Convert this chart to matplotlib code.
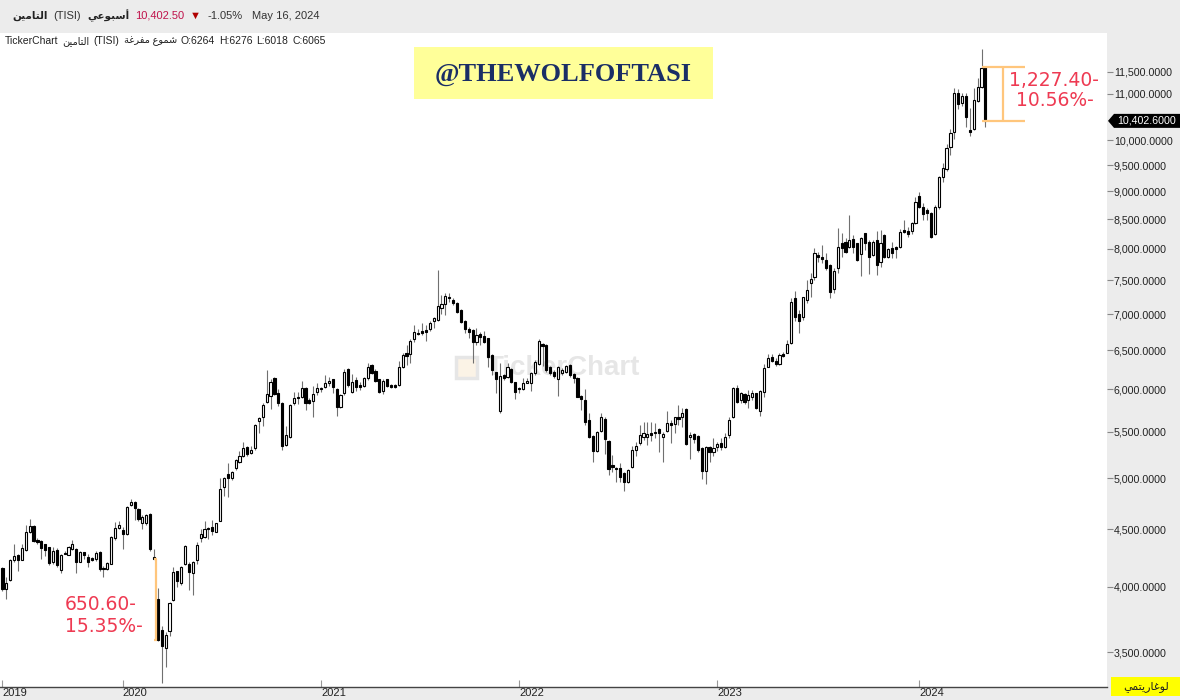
import numpy as np
import matplotlib
matplotlib.use('Agg')
import matplotlib.pyplot as plt
from matplotlib.patches import Rectangle, Polygon
from matplotlib.ticker import FixedLocator, FuncFormatter, NullLocator

plt.rcParams['font.family'] = ['Liberation Sans', 'DejaVu Sans']

# weekly candles, TISI insurance index
opens = [
    4156, 3984, 4060, 4226, 4269, 4226, 4313, 4478, 4534, 4408,
    4391, 4365, 4339, 4208, 4313, 4139, 4287, 4269, 4321, 4321,
    4208, 4295, 4252, 4243, 4234, 4295, 4156, 4147, 4190, 4426,
    4514, 4495, 4456, 4729, 4758, 4690, 4563, 4563, 4641, 4252,
    3900, 3661, 3531, 3654, 3892, 4130, 4034, 4190, 4190, 4112,
    4226, 4426, 4434, 4514, 4524, 4478, 4583, 4914, 5044, 5001,
    5109, 5173, 5227, 5324, 5259, 5313, 5625, 5672, 5849, 5920,
    6143, 5956, 5837, 5356, 5442, 5837, 5908, 5908, 6015, 5872,
    5860, 5967, 6015, 6028, 6079, 6131, 6003, 5790, 5956, 6259,
    5967, 6118, 6054, 6041, 6143, 6310, 6233, 6131, 5979, 6131,
    6054, 6054, 6054, 6284, 6463, 6450, 6655, 6738, 6765, 6779,
    6793, 6903, 6917, 7089, 7149, 7253, 7209, 7164, 7060, 6903,
    6793, 6779, 6613, 6724, 6696, 6669, 6438, 6220, 5732, 6182,
    6156, 6259, 6092, 6015, 6003, 6079, 6079, 6207, 6323, 6585,
    6572, 6284, 6220, 6131, 6207, 6220, 6310, 6195, 6143, 5920,
    5872, 5637, 5452, 5281, 5507, 5649, 5399, 5141, 5109, 5109,
    5055, 4962, 5119, 5292, 5378, 5442, 5442, 5485, 5496, 5531,
    5442, 5507, 5601, 5590, 5672, 5672, 5766, 5442, 5474, 5452,
    5313, 5076, 5324, 5270, 5324, 5378, 5324, 5463, 5672, 6015,
    5872, 5944, 5872, 5908, 5956, 5732, 5967, 6284, 6411, 6361,
    6323, 6450, 6463, 6599, 7238, 7000, 6958, 7209, 7461, 7554,
    7903, 7871, 7824, 7745, 7372, 7697, 8100, 8117, 8032, 8167,
    8100, 7919, 8269, 8117, 7903, 8150, 7792, 8235, 7871, 8015,
    8032, 8032, 8320, 8303, 8303, 8437, 8919, 8721, 8667, 8613,
    8252, 8721, 9274, 9425, 9862, 10174, 11014, 10796, 10948, 10217,
    10239, 10839, 11152, 11629.4,
]
highs = [
    4165, 4086, 4234, 4365, 4278, 4365, 4543, 4602, 4543, 4426,
    4408, 4365, 4339, 4339, 4330, 4278, 4304, 4348, 4400, 4330,
    4304, 4295, 4278, 4252, 4304, 4304, 4173, 4208, 4443, 4573,
    4583, 4524, 4719, 4787, 4767, 4700, 4631, 4641, 4651, 4321,
    3990, 3692, 3646, 3876, 4165, 4130, 4173, 4356, 4208, 4217,
    4382, 4504, 4583, 4524, 4592, 4563, 5000, 5012, 5162, 5076,
    5205, 5281, 5389, 5335, 5335, 5590, 5672, 5837, 6246, 6131,
    6156, 6003, 5849, 5566, 5826, 5967, 5967, 6105, 6028, 5896,
    6041, 6079, 6028, 6182, 6156, 6131, 6015, 5944, 6259, 6271,
    6195, 6156, 6092, 6156, 6335, 6323, 6259, 6131, 6131, 6131,
    6067, 6067, 6361, 6463, 6572, 6655, 6848, 6793, 6876, 6848,
    6903, 6958, 7665, 7283, 7313, 7313, 7238, 7179, 7074, 6917,
    6820, 6793, 6807, 6752, 6765, 6669, 6450, 6220, 6335, 6195,
    6335, 6271, 6092, 6028, 6143, 6143, 6220, 6374, 6655, 6599,
    6585, 6297, 6246, 6297, 6271, 6310, 6323, 6207, 6156, 5932,
    6003, 5720, 5463, 5507, 5720, 5672, 5410, 5238, 5119, 5162,
    5066, 5098, 5335, 5389, 5578, 5613, 5613, 5613, 5601, 5543,
    5496, 5732, 5637, 5672, 5814, 5778, 5778, 5496, 5485, 5463,
    5324, 5335, 5335, 5431, 5389, 5431, 5485, 5672, 6028, 6054,
    5967, 5956, 5990, 5990, 5956, 5990, 6323, 6450, 6450, 6400,
    6463, 6476, 6641, 7238, 7343, 7060, 7253, 7506, 7618, 8015,
    7951, 8066, 7935, 7760, 7697, 8353, 8269, 8184, 8577, 8235,
    8100, 8201, 8269, 8150, 8150, 8303, 8320, 8252, 8015, 8117,
    8049, 8337, 8490, 8371, 8454, 8901, 8991, 8793, 8703, 8631,
    8757, 9293, 9542, 9922, 10239, 11129, 11106, 11014, 11014, 10690,
    11129, 11360, 12050, 11650,
]
lows = [
    3968, 3900, 4051, 4208, 4130, 4226, 4304, 4466, 4382, 4365,
    4234, 4260, 4182, 4190, 4165, 4112, 4278, 4269, 4313, 4112,
    4208, 4234, 4165, 4217, 4217, 4130, 4086, 4139, 4190, 4408,
    4505, 4321, 4448, 4719, 4592, 4583, 4505, 4543, 4304, 4234,
    3577, 3287, 3393, 3615, 3884, 4000, 4017, 4182, 3976, 3934,
    4190, 4382, 4426, 4417, 4447, 4478, 4583, 4816, 4806, 4980,
    5087, 5162, 5216, 5227, 5249, 5292, 5484, 5566, 5837, 5766,
    5932, 5802, 5292, 5335, 5430, 5814, 5826, 5896, 5755, 5826,
    5672, 5932, 5967, 6015, 6041, 5956, 5684, 5778, 5932, 6028,
    5956, 5979, 5990, 6028, 6118, 6195, 6092, 5956, 5944, 6028,
    6015, 6015, 6041, 6271, 6310, 6335, 6613, 6710, 6710, 6627,
    6765, 6807, 6903, 7000, 6986, 7179, 7134, 7015, 6876, 6738,
    6669, 6335, 6572, 6572, 6599, 6284, 6182, 5956, 5720, 6118,
    6143, 6079, 5884, 5956, 5990, 6079, 5979, 6182, 6310, 6297,
    6220, 6182, 6143, 5920, 6182, 6207, 6156, 6079, 5908, 5755,
    5578, 5430, 5173, 5270, 5496, 5249, 5033, 5066, 4962, 4962,
    4865, 4952, 5109, 5227, 5356, 5410, 5356, 5399, 5431, 5270,
    5173, 5496, 5378, 5485, 5578, 5554, 5356, 5195, 5378, 5270,
    4990, 4937, 5173, 5227, 5281, 5302, 5313, 5431, 5660, 5837,
    5837, 5826, 5778, 5872, 5766, 5684, 5908, 6284, 6348, 6297,
    6310, 6411, 6463, 6585, 6903, 6738, 6917, 7164, 7253, 7506,
    7792, 7776, 7665, 7238, 7313, 7618, 7871, 7935, 8015, 7935,
    7808, 7570, 7983, 7602, 7887, 7586, 7713, 7856, 7856, 7856,
    7856, 8015, 8269, 8201, 8252, 8420, 8703, 8490, 8490, 8184,
    8235, 8685, 9180, 9387, 9702, 10024, 10667, 10732, 10282, 10088,
    10217, 10818, 11129, 10282,
]
closes = [
    3984, 4034, 4226, 4260, 4226, 4330, 4478, 4534, 4391, 4382,
    4330, 4313, 4199, 4304, 4182, 4269, 4278, 4339, 4365, 4208,
    4295, 4269, 4208, 4226, 4287, 4147, 4147, 4199, 4434, 4514,
    4543, 4456, 4709, 4758, 4700, 4602, 4621, 4631, 4321, 4238,
    3587.4, 3546, 3623, 3869, 4122, 4051, 4165, 4348, 4122, 4208,
    4356, 4460, 4504, 4505, 4485, 4563, 4894, 5001, 5001, 5066,
    5184, 5227, 5313, 5249, 5302, 5578, 5660, 5814, 5944, 6092,
    5944, 5837, 5343, 5463, 5814, 5896, 5896, 6015, 5837, 5837,
    5944, 6015, 6003, 6079, 6105, 6028, 5790, 5932, 6220, 6054,
    6092, 6028, 6028, 6143, 6284, 6207, 6105, 5967, 6105, 6041,
    6028, 6028, 6284, 6438, 6425, 6627, 6752, 6724, 6738, 6752,
    6876, 6944, 7119, 7149, 7268, 7238, 7164, 7030, 6889, 6793,
    6752, 6613, 6710, 6683, 6613, 6411, 6246, 6131, 6169, 6143,
    6284, 6092, 5967, 6003, 6079, 6105, 6207, 6348, 6627, 6558,
    6246, 6207, 6169, 6284, 6246, 6297, 6182, 6143, 5908, 5884,
    5613, 5442, 5281, 5496, 5672, 5420, 5098, 5119, 5098, 5012,
    4962, 5087, 5302, 5335, 5463, 5485, 5474, 5463, 5485, 5485,
    5474, 5601, 5578, 5672, 5649, 5720, 5367, 5463, 5420, 5292,
    5076, 5324, 5270, 5313, 5367, 5324, 5442, 5637, 6015, 5849,
    5956, 5849, 5932, 5956, 5778, 5979, 6271, 6400, 6361, 6323,
    6438, 6425, 6586, 7179, 6958, 6903, 7253, 7357, 7522, 7935,
    7871, 7840, 7697, 7328, 7650, 8032, 8015, 7951, 8150, 8032,
    7824, 8184, 8100, 7871, 8117, 7745, 8100, 7871, 7999, 7935,
    7999, 8286, 8286, 8252, 8437, 8811, 8721, 8595, 8613, 8199,
    8721, 9274, 9444, 9842, 10153, 11014, 10774, 10948, 10475, 10174,
    10861, 11152, 11596, 10402.6,
]

year_labels = ['2019', '2020', '2021', '2022', '2023', '2024']
year_start_idx = [0, 31, 82, 133, 184, 236]
# 10,500 sits under the last-price marker, so it is left out
price_ticks = [3500, 4000, 4500, 5000, 5500, 6000, 6500, 7000, 7500,
               8000, 8500, 9000, 9500, 10000, 11000, 11500]

# measured moves drawn with the orange brackets
crash_from, crash_to = 39, 40           # candle indices (close to close)
last_drop = (11629.4, 10402.6)          # last week open -> close
crash_labels = ['650.60-', '15.35%-']
last_labels = ['1,227.40-', '10.56%-']

# Arabic words as presentation forms in visual order (no shaping in matplotlib)
AR_TISI = '\ufee6\ufef4\ufee3\ufe8e\ufe98\ufedf\ufe8d'                   # التامين
AR_WEEKLY = '\ufef2\ufecb\ufeee\ufe92\ufeb3\ufe83'                       # أسبوعي
AR_HOLLOW = '\ufe94\ufecf\ufeae\ufed4\ufee3 \ufec9\ufeee\ufee4\ufeb7'    # شموع مفرغة
AR_LOG = '\ufef2\ufee4\ufe98\ufef3\ufead\ufe8e\ufecf\ufeee\ufedf'        # لوغاريتمي

ORANGE = '#ffc67c'
RED = '#ee3a52'
PANEL = '#ececec'

o = np.array(opens, float)
h = np.array(highs, float)
l = np.array(lows, float)
c = np.array(closes, float)
n = len(c)
idx = np.arange(n)
up = c >= o

W, H = 1180, 700
fig = plt.figure(figsize=(W / 100, H / 100), dpi=100, facecolor=PANEL)
ax_l, ax_r, ax_t, ax_b = 0, 1107, 33, 686.5
ax = fig.add_axes([ax_l / W, (H - ax_b) / H, (ax_r - ax_l) / W, (ax_b - ax_t) / H])
ax.set_facecolor('white')

ax.set_yscale('log')
ax.set_ylim(3261, 12457)
ax.set_xlim(-0.64, 284.3)


def axfrac(px, py):
    return (px - ax_l) / (ax_r - ax_l), (ax_b - py) / (ax_b - ax_t)


# watermark
ax.text(*axfrac(487, 368), 'TickerChart', transform=ax.transAxes, fontsize=20,
        fontweight='bold', color='#e6e6e6', ha='left', va='center', zorder=1)
lx, ly = axfrac(456, 378)
ax.add_patch(Rectangle((lx, ly), 21 / (ax_r - ax_l), 21 / (ax_b - ax_t),
                       transform=ax.transAxes, facecolor='#fbf3e6',
                       edgecolor='#e6e6e6', lw=2.5, zorder=1))

# candles
ax.vlines(idx, l, h, color='#707070', lw=0.8, zorder=2)
lo = np.minimum(o, c)
hi = np.maximum(o, c)
ax.bar(idx[up], hi[up] - lo[up], bottom=lo[up], width=0.55, color='white',
       edgecolor='black', linewidth=0.8, zorder=3)
ax.bar(idx[~up], hi[~up] - lo[~up], bottom=lo[~up], width=0.55, color='black',
       edgecolor='black', linewidth=0.8, zorder=3)

# orange brackets
xa = crash_from + 0.4
ax.vlines(xa, c[crash_to], c[crash_from], color=ORANGE, lw=1.6, zorder=4)
ax.hlines([c[crash_from], c[crash_to]], xa - 0.5, xa + 0.5, color=ORANGE, lw=1.6, zorder=4)
last = n - 1
ax.hlines(list(last_drop), last - 0.9, last + 10.2, color=ORANGE, lw=1.6, zorder=4)
ax.vlines(last + 4.6, last_drop[1], last_drop[0], color=ORANGE, lw=1.6, zorder=4)

# axes styling
for s in ['top', 'left', 'right']:
    ax.spines[s].set_visible(False)
ax.spines['bottom'].set_color('#444444')
ax.spines['bottom'].set_linewidth(1.0)

ax.yaxis.tick_right()
ax.yaxis.set_major_locator(FixedLocator(price_ticks))
ax.yaxis.set_minor_locator(NullLocator())
ax.yaxis.set_major_formatter(FuncFormatter(lambda v, p: f'{v:,.4f}'))
ax.tick_params(axis='y', direction='out', length=4, width=0.8, color='#888888',
               labelsize=7.7, labelcolor='#222222', pad=1)

ax.set_xticks(year_start_idx)
ax.set_xticklabels(year_labels)
ax.tick_params(axis='x', direction='in', length=5, width=0.8, color='#999999',
               labelsize=8, labelcolor='#222222', pad=1)
for t in ax.get_xticklabels():
    t.set_horizontalalignment('left')

# overlay in pixel coordinates for header / labels
ov = fig.add_axes([0, 0, 1, 1])
ov.set_xlim(0, W)
ov.set_ylim(H, 0)
ov.axis('off')
ov.set_zorder(5)

fig.canvas.draw()
renderer = fig.canvas.get_renderer()


def text_row(items, y, gap=4):
    # place texts left to right, never before the reference x, never overlapping
    x = 0
    for s, xmin, kw in items:
        x = max(x, xmin)
        t = ov.text(x, y, s, va='center', ha='left', **kw)
        x += t.get_window_extent(renderer=renderer).width + gap


base = dict(fontsize=8, color='#333333')
ar_b = dict(fontsize=7.5, color='#222222', fontweight='bold')
text_row([
    (AR_TISI, 12, ar_b),
    ('(TISI)', 42, base),
    (AR_WEEKLY, 80, ar_b),
    ('10,402.50', 126, dict(fontsize=8, color='#c0124b')),
    ('\u25bc', 183, dict(fontsize=8, color='#b00000')),
    ('-1.05%', 202, base),
    ('May 16, 2024', 252, base),
], 16, gap=6)

sub = dict(fontsize=7.5, color='#222222')
sub_ar = dict(fontsize=7, color='#222222')
text_row([
    ('TickerChart', 5, sub),
    (AR_TISI, 61, sub_ar),
    ('(TISI)', 85, sub),
    (AR_HOLLOW, 113, sub_ar),
    ('O:6264', 161, sub),
    ('H:6276', 209, sub),
    ('L:6018', 253, sub),
    ('C:6065', 291, sub),
], 41.5, gap=4)

# title box
ov.add_patch(Rectangle((414, 47), 299, 52, facecolor='#ffff99', edgecolor='none'))
ov.text(563, 74, '@THEWOLFOFTASI', fontsize=19, fontweight='bold', color='#1a2e66',
        family='Liberation Serif', ha='center', va='center')

# measured move labels
lab = dict(fontsize=13.5, color=RED, family='DejaVu Sans', va='center')
ov.text(65, 605, crash_labels[0], ha='left', **lab)
ov.text(65, 627, crash_labels[1], ha='left', **lab)
ov.text(1054, 80, last_labels[0], ha='center', **lab)
ov.text(1055, 101, last_labels[1], ha='center', **lab)

# last price marker on the right scale
yc = H - ax.transData.transform((0, c[-1]))[1]
ov.add_patch(Polygon([(1108, yc), (1114, yc - 7), (1180, yc - 7), (1180, yc + 7),
                      (1114, yc + 7)], closed=True, facecolor='black', edgecolor='none'))
ov.text(1117, yc, f'{c[-1]:,.4f}', fontsize=7.7, color='white', ha='left', va='center')

# log-scale badge
ov.add_patch(Rectangle((1111, 677), 69, 19, facecolor='#ffff00', edgecolor='none'))
ov.text(1146, 686.5, AR_LOG, fontsize=8, color='#222222', ha='center', va='center')

fig.savefig('out.png', dpi=100, facecolor=PANEL)
